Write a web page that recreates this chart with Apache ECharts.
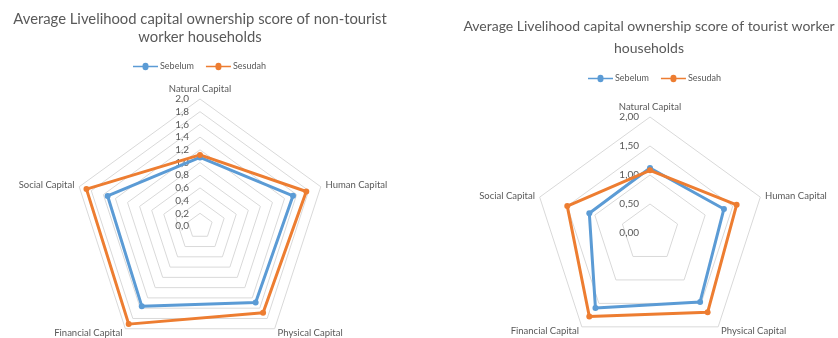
<!DOCTYPE html>
<html><head><meta charset="utf-8">
<script src="https://cdn.jsdelivr.net/npm/echarts@6/dist/echarts.min.js"></script>
<style>html,body{margin:0;padding:0;background:#fff}#c{width:838px;height:338px}</style>
</head><body><div id="c"></div>
<script>
// Axes listed clockwise from the top, as in the reference
const indicators = ['Natural Capital', 'Human Capital', 'Physical Capital', 'Financial Capital', 'Social Capital'];
const seriesNames = ['Sebelum', 'Sesudah'];
const nonTouristSebelum = [1.08, 1.54, 1.49, 1.56, 1.53];
const nonTouristSesudah = [1.12, 1.76, 1.69, 1.91, 1.88];
const touristSebelum = [1.12, 1.34, 1.47, 1.60, 1.10];
const touristSesudah = [1.08, 1.57, 1.69, 1.78, 1.50];
const leftTicks = ['0,0','0,2','0,4','0,6','0,8','1,0','1,2','1,4','1,6','1,8','2,0'];
const rightTicks = ['0,00','0,50','1,00','1,50','2,00'];
const titleLeft = 'Average Livelihood capital ownership score of non-tourist\nworker households';
const titleRight = 'Average Livelihood capital ownership score of tourist worker\nhouseholds';

const colors = ['#5b9bd5', '#ed7d31'];
const FONT = 'Lato';
const TXT = '#595959';
// ECharts radar goes counterclockwise: reorder so it reads clockwise
const order = [0, 4, 3, 2, 1];
const ro = arr => order.map(i => arr[i]);

function radarCfg(center, radius, split, ticks) {
  return {
    center: center, radius: radius, startAngle: 90, splitNumber: split, shape: 'polygon',
    indicator: order.map((i, k) => {
      const o = { name: indicators[i], min: 0, max: 2 };
      if (k === 0) o.axisLabel = { show: true };
      return o;
    }),
    axisName: { color: TXT, fontFamily: FONT, fontSize: 9.5 },
    nameGap: 5,
    axisLine: { show: false },
    axisTick: { show: false },
    splitArea: { show: false },
    splitLine: { lineStyle: { color: '#d9d9d9', width: 1 } },
    axisLabel: {
      show: false, color: TXT, fontFamily: FONT, fontSize: 10, margin: 11,
      showMinLabel: true, showMaxLabel: true,
      formatter: (v) => {
        const idx = Math.round(v / (2 / split));
        return ticks[idx] !== undefined ? ticks[idx] : '';
      }
    }
  };
}

const legendIcon = 'path://M0,3.2H9.5A3,3 0 0 1 15.5,3.2H25V4.8H15.5A3,3 0 0 1 9.5,4.8H0Z';
function legendCfg(left, top) {
  return {
    left: left, top: top, padding: 0, itemGap: 12, itemWidth: 25, itemHeight: 8,
    icon: legendIcon, data: seriesNames,
    textStyle: { color: TXT, fontFamily: FONT, fontSize: 9, padding: [0, 0, 0, -3] }
  };
}

function seriesCfg(radarIndex, a, b) {
  return {
    type: 'radar', radarIndex: radarIndex, symbol: 'circle', symbolSize: 6,
    data: [a, b].map((arr, k) => ({
      name: seriesNames[k], value: ro(arr),
      lineStyle: { color: colors[k], width: 3 },
      itemStyle: { color: colors[k] }
    }))
  };
}

const chart = echarts.init(document.getElementById('c'));
chart.setOption({
  animation: false,
  color: colors,
  title: [
    { text: titleLeft, left: 200, top: 10, textAlign: 'center', padding: 0,
      textStyle: { color: TXT, fontFamily: FONT, fontSize: 14.8, fontWeight: 'normal', lineHeight: 18 } },
    { text: titleRight, left: 649, top: 15, textAlign: 'center', padding: 0,
      textStyle: { color: TXT, fontFamily: FONT, fontSize: 14, fontWeight: 'normal', lineHeight: 22 } }
  ],
  legend: [legendCfg(133, 62), legendCfg(588, 74)],
  radar: [
    radarCfg([200, 226], 127, 10, leftTicks),
    radarCfg([650, 233], 116, 4, rightTicks)
  ],
  series: [
    seriesCfg(0, nonTouristSebelum, nonTouristSesudah),
    seriesCfg(1, touristSebelum, touristSesudah)
  ]
});
</script></body></html>
